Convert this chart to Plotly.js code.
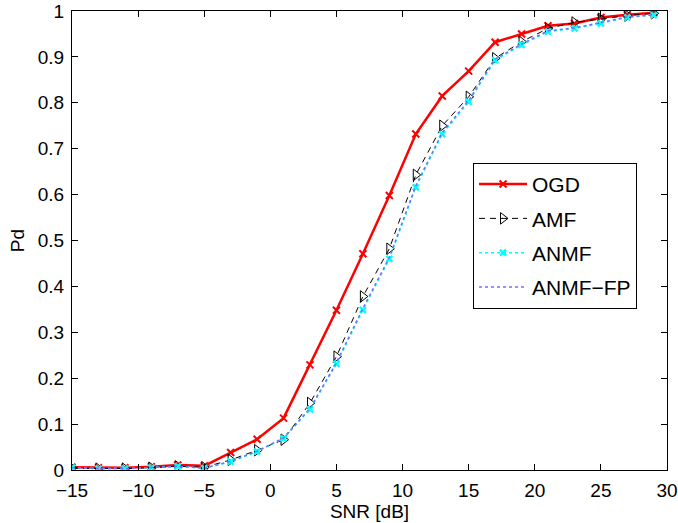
<!DOCTYPE html>
<html>
<head>
<meta charset="utf-8">
<script src="https://cdn.plot.ly/plotly-3.0.1.min.js"></script>
<style>body{margin:0;padding:0;background:#fff}#chart{width:678px;height:523px}</style>
</head>
<body>
<div id="chart"></div>
<script>
const snr = [-15, -13, -11, -9, -7, -5, -3, -1, 1, 3, 5, 7, 9, 11, 13, 15, 17, 19, 21, 23, 25, 27, 29];
const ogd = [0.006, 0.005, 0.005, 0.007, 0.011, 0.009, 0.038, 0.067, 0.113, 0.229, 0.348, 0.471, 0.598, 0.732, 0.815, 0.869, 0.932, 0.950, 0.968, 0.973, 0.986, 0.992, 0.996];
const amf = [0.004, 0.003, 0.003, 0.005, 0.008, 0.006, 0.022, 0.043, 0.066, 0.146, 0.247, 0.378, 0.482, 0.643, 0.750, 0.813, 0.897, 0.933, 0.962, 0.975, 0.983, 0.990, 0.995];
const anmf = [0.005, 0.003, 0.003, 0.005, 0.008, 0.004, 0.018, 0.040, 0.069, 0.132, 0.231, 0.349, 0.460, 0.616, 0.732, 0.802, 0.893, 0.926, 0.955, 0.962, 0.973, 0.986, 0.991];
const anmffp = [0.005, 0.003, 0.003, 0.005, 0.008, 0.004, 0.019, 0.041, 0.070, 0.134, 0.234, 0.352, 0.463, 0.619, 0.735, 0.805, 0.895, 0.928, 0.957, 0.963, 0.975, 0.987, 0.992];
const names = ["OGD", "AMF", "ANMF", "ANMF\u2212FP"];

const traces = [
  {x: snr, y: ogd, name: names[0], mode: "lines+markers", legendgroup: "g1",
   line: {color: "#ff0000", width: 2.5},
   marker: {symbol: "x-thin-open", size: 7, line: {color: "#ff0000", width: 2}}},
  {x: snr, y: amf, name: names[1], mode: "lines+markers", legendgroup: "g2",
   line: {color: "#000000", width: 1, dash: "6px,5px"},
   marker: {symbol: "triangle-right-open", size: 10, color: "#000000", line: {color: "#000000", width: 1}}},
  {x: snr, y: anmf, name: names[2], mode: "lines+markers", legendgroup: "g3",
   line: {color: "#00ffff", width: 1.5, dash: "dot"},
   marker: {symbol: "x-thin-open", size: 6, line: {color: "#00e5ee", width: 2.5}}},
  {x: snr, y: anmffp, name: names[3], mode: "lines", legendgroup: "g4",
   line: {color: "#7070ff", width: 1.5, dash: "dot"}}
];

const fam = "Liberation Sans, Arial, sans-serif";
const axisFont = {family: fam, size: 19, color: "#000"};
const layout = {
  width: 678, height: 523,
  margin: {l: 72, r: 11, t: 11, b: 53},
  paper_bgcolor: "#fff", plot_bgcolor: "#fff",
  font: axisFont,
  showlegend: true,
  legend: {x: 0.674, y: 0.669, xanchor: "left", yanchor: "top",
           bordercolor: "#000", borderwidth: 1, bgcolor: "#fff",
           font: {family: fam, size: 21, color: "#000"},
           itemwidth: 48,
           tracegroupgap: 4},
  xaxis: {range: [-15, 30], tickvals: [-15, -10, -5, 0, 5, 10, 15, 20, 25, 30],
          ticks: "inside", ticklen: 6, tickcolor: "#000", mirror: "ticks",
          showline: true, linecolor: "#000", linewidth: 1, showgrid: false, zeroline: false,
          tickfont: axisFont, ticklabelstandoff: 3,
          title: {text: "SNR [dB]", font: axisFont, standoff: 0}},
  yaxis: {range: [0, 1], tickvals: [0, 0.1, 0.2, 0.3, 0.4, 0.5, 0.6, 0.7, 0.8, 0.9, 1],
          ticktext: ["0", "0.1", "0.2", "0.3", "0.4", "0.5", "0.6", "0.7", "0.8", "0.9", "1"],
          ticks: "inside", ticklen: 6, tickcolor: "#000", mirror: "ticks",
          showline: true, linecolor: "#000", linewidth: 1, showgrid: false, zeroline: false,
          tickfont: axisFont, ticklabelstandoff: 3,
          title: {text: "Pd", font: axisFont, standoff: 8}}
};

Plotly.newPlot("chart", traces, layout, {displayModeBar: false, staticPlot: true});
</script>
</body>
</html>
